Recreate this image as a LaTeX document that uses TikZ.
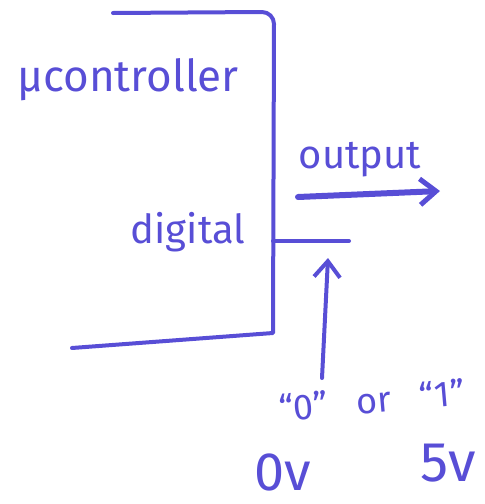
\documentclass[tikz,border=0pt]{standalone}
\usepackage{fontspec}
\setmainfont{Fira Sans}
\usetikzlibrary{arrows.meta}
\definecolor{ink}{RGB}{88,78,214}
\begin{document}
\begin{tikzpicture}[x=1pt,y=-1pt,
  inkline/.style={draw=ink, line width=4pt, line cap=round, line join=round},
  lbl/.style={text=ink, inner sep=0pt, anchor=center}]
\useasboundingbox (0,0) rectangle (485,504);
% microcontroller box (open on the left)
\draw[inkline] (113,13) -- (262,12) to[out=0,in=90] (274,24) -- (273,333) -- (72,348);
% labels
\node[lbl, font=\fontsize{44}{48}\selectfont] (uc) at (128,80) {µcontroller};
\node[lbl, font=\fontsize{40}{44}\selectfont] (dig) at (188,232) {digital};
\node[lbl, font=\fontsize{40}{44}\selectfont] (out) at (360,160) {output};
\node[lbl, font=\fontsize{36}{40}\selectfont, rotate=5] (q) at (372,400) {“0”\ \ \ or\ \ \ “1”};
\node[lbl, font=\fontsize{54}{58}\selectfont] (z) at (283,472) {0v};
\node[lbl, font=\fontsize{56}{60}\selectfont] (f) at (448,463) {5v};
% digital pin
\coordinate (pin) at (273,241);
\coordinate (pinend) at (349,241);
\draw[inkline] (pin) -- (pinend);
% output arrow
\coordinate (os) at (298,197);
\coordinate (oe) at (440,191);
\draw[inkline, line width=6pt, -{Straight Barb[length=16pt,width=26pt,line width=5pt]}] (os) -- (oe);
% level arrow
\coordinate (utail) at (322,378);
\coordinate (uhead) at (328,258);
\draw[inkline, -{Straight Barb[length=16pt,width=26pt]}] (utail) -- (uhead);
\end{tikzpicture}
\end{document}
